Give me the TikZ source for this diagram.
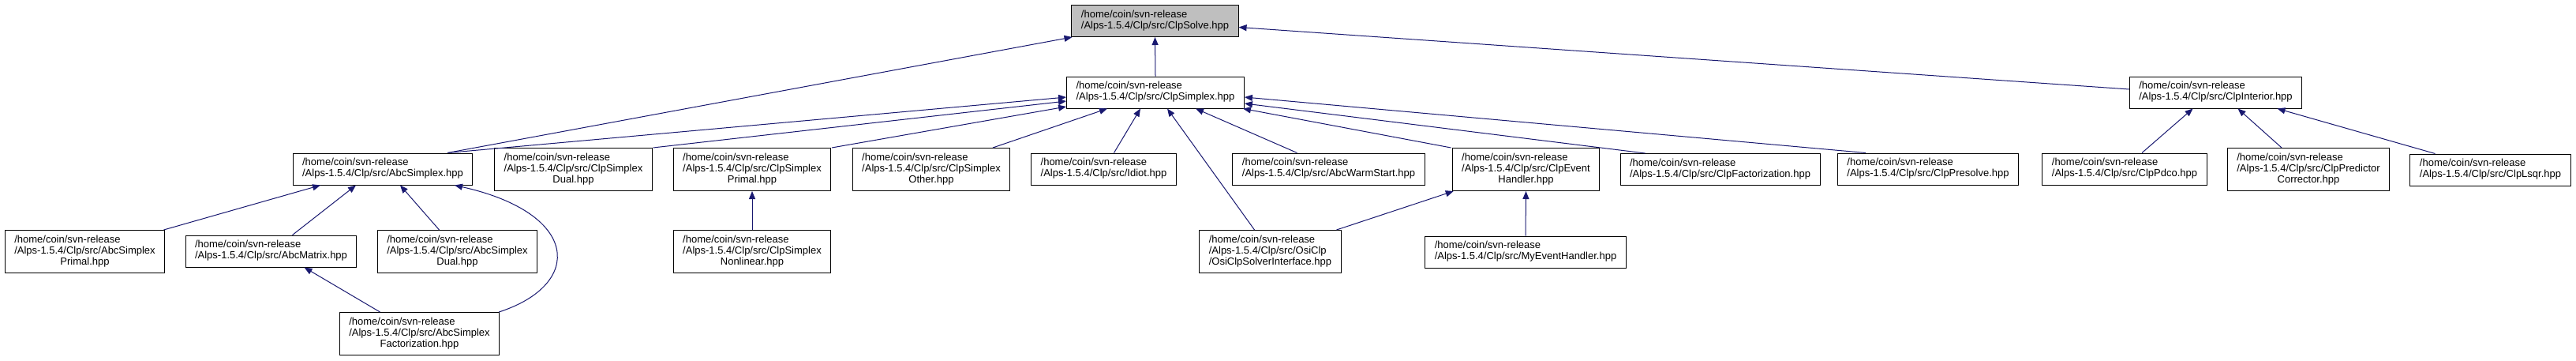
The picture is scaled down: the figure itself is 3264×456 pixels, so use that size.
\documentclass[tikz,border=0pt]{standalone}
\usepackage{fontspec}
\setmainfont{Liberation Sans}
\usetikzlibrary{arrows.meta,positioning}
\definecolor{edgeblue}{HTML}{191970}
\definecolor{rootgray}{HTML}{BFBFBF}
\tikzset
{
    hdr/.style     = {rectangle, draw=black, line width=1pt, inner xsep=12pt, inner ysep=6pt, fill=white, font=\fontsize{13}{14}\selectfont},
    hdrroot/.style = {hdr, fill=rootgray},
    arrow/.style   = {draw=edgeblue, line width=1pt, -{Triangle[length=10pt,width=8pt]}}
}
\newcommand{\twoline}[1]{\begin{tabular}{@{}l@{}}/home/coin/svn-release\\/Alps-1.5.4/Clp/src/#1\end{tabular}}
\newcommand{\threeline}[2]{\begin{tabular}{@{}l@{}}/home/coin/svn-release\\/Alps-1.5.4/Clp/src/#1\\\multicolumn{1}{@{}c@{}}{#2}\end{tabular}}
\begin{document}
\begin{tikzpicture}[x=1pt, y=-1pt]
	\useasboundingbox (0,0) rectangle (3264,456);
	% top rows
	\node (root) [hdrroot] at (1463.5,26.5) {\twoline{ClpSolve.hpp}};
	\node (smplx) [hdr] at (1464,117) {\twoline{ClpSimplex.hpp}};
	\node (interior) [hdr] at (2807.5,117) {\twoline{ClpInterior.hpp}};
	% second row
	\node (abcs) [hdr] at (485,214) {\twoline{AbcSimplex.hpp}};
	\node (dual) [hdr] at (726.5,214.5) {\threeline{ClpSimplex}{Dual.hpp}};
	\node (primal) [hdr] at (953,214.5) {\threeline{ClpSimplex}{Primal.hpp}};
	\node (other) [hdr] at (1180,214.5) {\threeline{ClpSimplex}{Other.hpp}};
	\node (idiot) [hdr] at (1398.5,214) {\twoline{Idiot.hpp}};
	\node (warm) [hdr] at (1683.5,214) {\twoline{AbcWarmStart.hpp}};
	\node (event) [hdr] at (1933.5,214.5) {\threeline{ClpEvent}{Handler.hpp}};
	\node (factor) [hdr] at (2179.5,214.5) {\twoline{ClpFactorization.hpp}};
	\node (presolve) [hdr] at (2443,214) {\twoline{ClpPresolve.hpp}};
	\node (pdco) [hdr] at (2692,214) {\twoline{ClpPdco.hpp}};
	\node (predcorr) [hdr] at (2925,214.5) {\threeline{ClpPredictor}{Corrector.hpp}};
	\node (lsqr) [hdr] at (3155.5,215) {\twoline{ClpLsqr.hpp}};
	% third row
	\node (abcprimal) [hdr] at (107.5,318.5) {\threeline{AbcSimplex}{Primal.hpp}};
	\node (abcmatrix) [hdr] at (343.5,318) {\twoline{AbcMatrix.hpp}};
	\node (abcdual) [hdr] at (579.5,318.5) {\threeline{AbcSimplex}{Dual.hpp}};
	\node (nonlin) [hdr] at (953,318.5) {\threeline{ClpSimplex}{Nonlinear.hpp}};
	\node (osiclp) [hdr] at (1609.5,318.5) {\begin{tabular}{@{}l@{}}/home/coin/svn-release\\/Alps-1.5.4/Clp/src/OsiClp\\/OsiClpSolverInterface.hpp\end{tabular}};
	\node (myevent) [hdr] at (1933,319) {\twoline{MyEventHandler.hpp}};
	% bottom row
	\node (abcfact) [hdr] at (531.5,422.5) {\threeline{AbcSimplex}{Factorization.hpp}};

	\draw [arrow] ([xshift=82pt]abcs.north) -- ([xshift=-105pt]root.south);
	\draw [arrow] (smplx.north) -- (root.south);
	\draw [arrow] ([yshift=4pt]interior.west) -- ([yshift=-8pt]root.east);

	\draw [arrow] ([xshift=82pt]abcs.north) -- ([yshift=-6pt]smplx.west);
	\draw [arrow] ([xshift=101pt]dual.north) -- ([yshift=-11pt]smplx.west);
	\draw [arrow] ([xshift=101pt]primal.north) -- ([yshift=-18pt]smplx.west);
	\draw [arrow] ([xshift=78pt]other.north) -- ([xshift=-61pt]smplx.south);
	\draw [arrow] ([xshift=13pt]idiot.north) -- ([xshift=-19pt]smplx.south);
	\draw [arrow] ([xshift=-20pt]osiclp.north) -- ([xshift=15pt]smplx.south);
	\draw [arrow] ([xshift=-40pt]warm.north) -- ([xshift=51pt]smplx.south);
	\draw [arrow] ([xshift=-95pt]event.north) -- ([xshift=-2pt]smplx.south east);
	\draw [arrow] ([xshift=-95pt]factor.north) -- ([yshift=-14pt]smplx.east);
	\draw [arrow] ([xshift=-79pt]presolve.north) -- ([yshift=-6pt]smplx.east);

	\draw [arrow] ([xshift=22pt]pdco.north) -- ([xshift=-29pt]interior.south);
	\draw [arrow] ([xshift=-34pt]predcorr.north) -- ([xshift=28pt]interior.south);
	\draw [arrow] ([xshift=-70pt]lsqr.north) -- ([xshift=78pt]interior.south);

	\draw [arrow] (nonlin.north) -- (primal.south);
	\draw [arrow] ([xshift=100pt]abcprimal.north) -- ([xshift=-79pt]abcs.south);
	\draw [arrow] ([xshift=27pt]abcmatrix.north) -- ([xshift=-34pt]abcs.south);
	\draw [arrow] ([xshift=-23pt]abcdual.north) -- ([xshift=22pt]abcs.south);
	\draw [arrow] ([xshift=-1pt]abcfact.north east) .. controls (740,360) and (735,270) .. ([xshift=91pt]abcs.south);
	\draw [arrow] ([xshift=-50pt]abcfact.north) -- ([xshift=42pt]abcmatrix.south);

	\draw [arrow] ([xshift=84pt]osiclp.north) -- ([xshift=2pt]event.south west);
	\draw [arrow] (myevent.north) -- (event.south);
\end{tikzpicture}
\end{document}
